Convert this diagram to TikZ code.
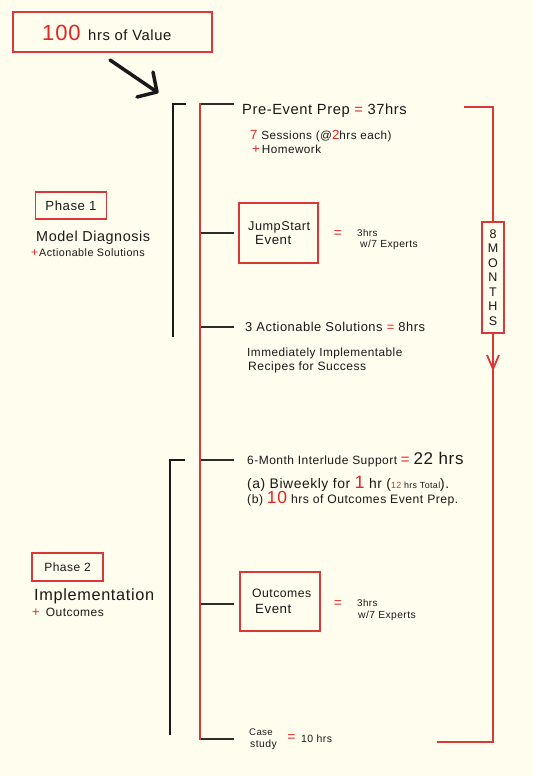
\documentclass[tikz,border=0pt]{standalone}
\usepackage{fontspec}
\setmainfont{Liberation Sans}[LetterSpace=4]
\newcommand{\hsz}[1]{\fontsize{#1}{#1}\selectfont}
\definecolor{bg}{RGB}{255,253,238}
\definecolor{hred}{RGB}{226,38,38}
\definecolor{bred}{RGB}{218,56,56}
\definecolor{ink}{RGB}{25,25,25}
\definecolor{lnk}{RGB}{45,45,45}
\tikzset{
  txt/.style={inner sep=0pt, anchor=base west, text=ink},
  redtxt/.style={inner sep=0pt, text=hred},
  redbox/.style={draw=bred, line width=1.4pt, inner sep=0pt, text=ink},
  branch/.style={draw=lnk, line width=1.2pt},
  bracket/.style={draw=ink, line width=1.5pt},
  spine/.style={draw=bred, line width=1.8pt},
  bigarrow/.style={draw=ink, line width=3.5pt, line cap=round, line join=round},
}
\begin{document}
\begin{tikzpicture}[x=1pt,y=-1pt]
\fill[bg] (0,0) rectangle (533,776);
\useasboundingbox (0,0) rectangle (533,776);

% title box
\node[redbox, minimum width=199pt, minimum height=40pt] (top) at (112.5,32) {};
\node[txt, text=hred] (hund) at (42,41) {\hsz{22}100};
\node[txt] (val) at (88,40.5) {\hsz{14.8}hrs of Value};

% big arrow
\coordinate (ar1) at (110,60);
\coordinate (ar2) at (157,92);
\coordinate (ab1) at (137,97);
\coordinate (ab2) at (153,72);
\draw[bigarrow] (ar1) -- (ar2);
\draw[bigarrow] (ab1) -- (ar2) -- (ab2);

% spine
\coordinate (sp0) at (200,103);
\coordinate (sp1) at (200,740);
\draw[spine] (sp0) -- (sp1);

% branches
\foreach \i/\yy in {1/104,2/233,3/327,4/460,5/604,6/739}{
  \coordinate (bs\i) at (201,\yy);
  \coordinate (be\i) at (234,\yy);
  \draw[branch] (bs\i) -- (be\i);
}

% phase brackets
\coordinate (p1a) at (186,104);
\coordinate (p1b) at (173,104);
\coordinate (p1c) at (173,337);
\draw[bracket] (p1a) -- (p1b) -- (p1c);
\coordinate (p2a) at (185,460);
\coordinate (p2b) at (170,460);
\coordinate (p2c) at (170,735);
\draw[bracket] (p2a) -- (p2b) -- (p2c);

% right bracket with months box
\node[redbox, minimum width=22pt, minimum height=111pt, align=center,
      font=\fontsize{12.5}{14.5}\selectfont] (months) at (493,277.5)
      {8\\M\\O\\N\\T\\H\\S};
\coordinate (r0) at (464,107);
\coordinate (r1) at (493,107);
\coordinate (rarr) at (493,369);
\coordinate (rb1) at (487,355);
\coordinate (rb2) at (499,355);
\coordinate (r2) at (493,742);
\coordinate (r3) at (437,742);
\draw[spine] (r0) -- (r1) -- (months.north);
\draw[spine] (months.south) -- (rarr) -- (r2) -- (r3);
\draw[spine, line join=round] (rb1) -- (rarr) -- (rb2);

% phase 1
\node[redbox, minimum width=71pt, minimum height=27pt] (ph1) at (71,205.5) {\hsz{13.2}Phase 1};
\node[txt] (md) at (36,241) {\hsz{14.4}Model Diagnosis};
\node[txt] (as) at (31,256) {\hsz{10.8}{\color{hred}\hsz{12}+}\hspace{1pt}Actionable Solutions};

% phase 2
\node[redbox, minimum width=71pt, minimum height=28pt] (ph2) at (67.5,567) {\hsz{12}Phase 2};
\node[txt] (impl) at (34,600) {\hsz{16.3}Implementation};
\node[txt] (outc) at (32,616.7) {\hsz{12}{\color{hred}\hsz{13}+}\hspace{6pt}Outcomes};

% pre-event prep
\node[txt] (pre) at (242,114) {\hsz{14.7}Pre-Event Prep {\color{hred}=} 37hrs};
\node[txt] (sess) at (250,139.3) {\hsz{11.7}{\color{hred}\hsz{13.3}7} Sessions (@{\color{hred}\hsz{13.3}2}hrs each)};
\node[txt] (hw) at (252,153) {\hsz{11.7}{\color{hred}\hsz{13.3}+}\hspace{2pt}Homework};

% jumpstart
\node[redbox, minimum width=79pt, minimum height=60pt] (jsb) at (278.5,233) {};
\node[txt] (js1) at (248,230) {\hsz{12.7}JumpStart};
\node[txt] (js2) at (255,244) {\hsz{13.3}Event};
\node[redtxt] (jseq) at (338,234) {\hsz{14}=};
\node[txt] (js3) at (357,236.8) {\hsz{9.8}3hrs};
\node[txt] (js4) at (360,247.8) {\hsz{10.3}w/7 Experts};

% actionable solutions
\node[txt] (act) at (245,331.7) {\hsz{12.9}3 Actionable Solutions {\color{hred}=} 8hrs};
\node[txt] (imm) at (247,356) {\hsz{11.8}Immediately Implementable};
\node[txt] (rec) at (248,370) {\hsz{12.1}Recipes for Success};

% interlude
\node[txt] (intl) at (247,464) {\hsz{12}6-Month Interlude Support {\color{hred}\hsz{15}=} {\hsz{17}22 hrs}};
\node[txt] (la) at (247,488.3) {\hsz{13.9}(a) Biweekly for {\color{hred}\hsz{18}1} hr ({\hsz{8.9}{\color{hred}12} hrs Total}).};
\node[txt] (lb) at (247,503.3) {\hsz{12.2}(b) {\color{hred}\hsz{17.5}10} hrs of Outcomes Event Prep.};

% outcomes event
\node[redbox, minimum width=80pt, minimum height=59pt] (ob) at (280,601.5) {};
\node[txt] (oe1) at (252,597) {\hsz{12.2}Outcomes};
\node[txt] (oe2) at (255,613) {\hsz{13.3}Event};
\node[redtxt] (oeq) at (338,604) {\hsz{14}=};
\node[txt] (oe3) at (357,606.8) {\hsz{9.8}3hrs};
\node[txt] (oe4) at (358,618.3) {\hsz{10.3}w/7 Experts};

% case study
\node[txt] (cs1) at (249,735.3) {\hsz{9.6}Case};
\node[txt] (cs2) at (250,747.2) {\hsz{10.4}study};
\node[redtxt] (cseq) at (291.5,738) {\hsz{14}=};
\node[txt] (cs3) at (301,742.7) {\hsz{10.5}10 hrs};
\end{tikzpicture}
\end{document}
